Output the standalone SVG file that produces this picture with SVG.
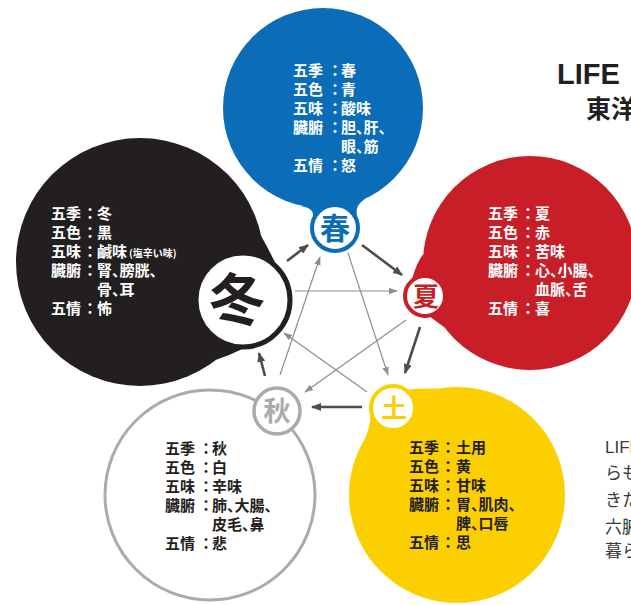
<svg xmlns="http://www.w3.org/2000/svg" width="631" height="605" viewBox="0 0 631 605">
<style>
.t{font-family:"Noto Sans CJK JP","Noto Sans CJK SC",sans-serif;font-size:15px;font-weight:700;font-feature-settings:"palt"}
.w{fill:#ffffff}
.k{fill:#231f20}
.c{text-anchor:middle}
.big{font-family:"Noto Sans CJK JP","Noto Sans CJK SC",sans-serif;font-weight:700;text-anchor:middle}
.dk{stroke:#4d4d4d;stroke-width:2.6;fill:none}
.lt{stroke:#8e8e8e;stroke-width:1.2;fill:none}
.ring{fill:#ffffff}
.side{font-family:"Noto Sans CJK JP","Noto Sans CJK SC",sans-serif;font-size:17px;fill:#3a3a3a}
</style>
<defs>
<marker id="ad" viewBox="0 0 10 8" refX="9" refY="4" markerWidth="10" markerHeight="8" markerUnits="userSpaceOnUse" orient="auto"><path d="M0,0 L10,4 L0,8 z" fill="#4d4d4d"/></marker>
<marker id="al" viewBox="0 0 10 7" refX="9" refY="3.5" markerWidth="9" markerHeight="6.5" markerUnits="userSpaceOnUse" orient="auto"><path d="M0,0 L10,3.5 L0,7 z" fill="#8e8e8e"/></marker>
</defs>
<rect width="631" height="605" fill="#ffffff"/>

<g id="title">
<text x="557" y="84" font-family="'Liberation Sans',Arial,sans-serif" font-size="29" font-weight="700" fill="#231f20">LIFE</text>
<text x="586" y="118" font-family="'Noto Sans CJK JP',sans-serif" font-size="25" font-weight="700" fill="#231f20">東洋</text>
</g>

<g id="side-text" class="side">
<text x="605" y="453" font-family="'Liberation Sans',Arial,sans-serif">LIFE</text>
<text x="605" y="479">らも</text>
<text x="605" y="506">きた</text>
<text x="605" y="533">六腑</text>
<text x="605" y="557">暮ら</text>
</g>

<g id="spring">
<circle cx="323" cy="108" r="100" fill="#0b6db7"/>
<path d="M301,206 Q318,209 311,221 L335,228 L335,200 Z M365,199 Q352,207 359,221 L335,228 L335,200 Z" fill="#0b6db7"/>
<text class="t w" x="293" y="76">五季</text><text class="t w c" x="335" y="76">：</text><text class="t w" x="341" y="76">春</text>
<text class="t w" x="293" y="95">五色</text><text class="t w c" x="335" y="95">：</text><text class="t w" x="341" y="95">青</text>
<text class="t w" x="293" y="114">五味</text><text class="t w c" x="335" y="114">：</text><text class="t w" x="341" y="114">酸味</text>
<text class="t w" x="293" y="133">臓腑</text><text class="t w c" x="335" y="133">：</text><text class="t w" x="341" y="133">胆、肝、</text>
<text class="t w" x="341" y="152">眼、筋</text>
<text class="t w" x="293" y="171">五情</text><text class="t w c" x="335" y="171">：</text><text class="t w" x="341" y="171">怒</text>
</g>

<g id="summer">
<circle cx="530" cy="263" r="107" fill="#c81e28"/>
<path d="M423.4,253.7 Q416,264 412.4,278 L425,296 Z M444.5,327.4 Q437,322 430.7,317.3 L425,296 L440,300 Z" fill="#c81e28"/>
<text class="t w" x="488" y="219">五季</text><text class="t w c" x="528" y="219">：</text><text class="t w" x="535" y="219">夏</text>
<text class="t w" x="488" y="238">五色</text><text class="t w c" x="528" y="238">：</text><text class="t w" x="535" y="238">赤</text>
<text class="t w" x="488" y="257">五味</text><text class="t w c" x="528" y="257">：</text><text class="t w" x="535" y="257">苦味</text>
<text class="t w" x="488" y="276">臓腑</text><text class="t w c" x="528" y="276">：</text><text class="t w" x="535" y="276">心、小腸、</text>
<text class="t w" x="535" y="295">血脈、舌</text>
<text class="t w" x="488" y="314">五情</text><text class="t w c" x="528" y="314">：</text><text class="t w" x="535" y="314">喜</text>
</g>

<g id="winter">
<circle cx="140" cy="262" r="124" fill="#231f20"/>
<path d="M261.3,236.2 Q268,248 274.8,262.1 L243,300 Z M216.3,359.7 Q228,356 241.3,349.5 L243,300 Z" fill="#231f20"/>
<text class="t w" x="51" y="219">五季</text><text class="t w c" x="90" y="219">：</text><text class="t w" x="97" y="219">冬</text>
<text class="t w" x="51" y="238">五色</text><text class="t w c" x="90" y="238">：</text><text class="t w" x="97" y="238">黒</text>
<text class="t w" x="51" y="257">五味</text><text class="t w c" x="90" y="257">：</text><text class="t w" x="97" y="257">鹹味<tspan font-size="10" dx="2">(塩辛い味)</tspan></text>
<text class="t w" x="51" y="276">臓腑</text><text class="t w c" x="90" y="276">：</text><text class="t w" x="97" y="276">腎、膀胱、</text>
<text class="t w" x="97" y="295">骨、耳</text>
<text class="t w" x="51" y="314">五情</text><text class="t w c" x="90" y="314">：</text><text class="t w" x="97" y="314">怖</text>
</g>

<g id="autumn">
<circle cx="210" cy="495" r="105" fill="#ffffff" stroke="#ababab" stroke-width="3"/>
<text class="t k" x="165" y="454">五季</text><text class="t k c" x="206" y="454">：</text><text class="t k" x="212" y="454">秋</text>
<text class="t k" x="165" y="473">五色</text><text class="t k c" x="206" y="473">：</text><text class="t k" x="212" y="473">白</text>
<text class="t k" x="165" y="492">五味</text><text class="t k c" x="206" y="492">：</text><text class="t k" x="212" y="492">辛味</text>
<text class="t k" x="165" y="511">臓腑</text><text class="t k c" x="206" y="511">：</text><text class="t k" x="212" y="511">肺、大腸、</text>
<text class="t k" x="212" y="530">皮毛、鼻</text>
<text class="t k" x="165" y="549">五情</text><text class="t k c" x="206" y="549">：</text><text class="t k" x="212" y="549">悲</text>
</g>

<g id="doyo">
<circle cx="457" cy="495" r="108" fill="#fcd000"/>
<path d="M438.2,388.6 Q418,388 408.4,389.6 L393,408 L420,410 Z M365.4,437.8 Q370,426 370.4,416.2 L393,408 L390,430 Z" fill="#fcd000"/>
<text class="t k" x="409" y="453">五季</text><text class="t k c" x="448" y="453">：</text><text class="t k" x="456" y="453">土用</text>
<text class="t k" x="409" y="472">五色</text><text class="t k c" x="448" y="472">：</text><text class="t k" x="456" y="472">黄</text>
<text class="t k" x="409" y="491">五味</text><text class="t k c" x="448" y="491">：</text><text class="t k" x="456" y="491">甘味</text>
<text class="t k" x="409" y="510">臓腑</text><text class="t k c" x="448" y="510">：</text><text class="t k" x="456" y="510">胃、肌肉、</text>
<text class="t k" x="456" y="529">脾、口唇</text>
<text class="t k" x="409" y="548">五情</text><text class="t k c" x="448" y="548">：</text><text class="t k" x="456" y="548">思</text>
</g>

<g id="connectors">
<line class="dk" x1="287" y1="261" x2="308" y2="245" marker-end="url(#ad)"/>
<line class="dk" x1="362" y1="245" x2="402" y2="275" marker-end="url(#ad)"/>
<line class="dk" x1="420" y1="327" x2="405" y2="373" marker-end="url(#ad)"/>
<line class="dk" x1="362" y1="407" x2="312" y2="407" marker-end="url(#ad)"/>
<line class="dk" x1="265" y1="376" x2="259" y2="353" marker-end="url(#ad)"/>
<line class="lt" x1="295" y1="291" x2="397" y2="291" marker-end="url(#al)"/>
<line class="lt" x1="348" y1="253" x2="388" y2="375" marker-end="url(#al)"/>
<line class="lt" x1="406" y1="320" x2="305" y2="392" marker-end="url(#al)"/>
<line class="lt" x1="367" y1="392" x2="284" y2="333" marker-end="url(#al)"/>
<line class="lt" x1="280" y1="375" x2="320" y2="257" marker-end="url(#al)"/>
</g>

<g id="badge-spring">
<circle class="ring" cx="335" cy="228" r="23" stroke="#0b6db7" stroke-width="4"/>
<text class="big" x="335" y="239" font-size="30" fill="#0b6db7">春</text>
</g>
<g id="badge-summer">
<circle class="ring" cx="425" cy="296" r="20" stroke="#c81e28" stroke-width="4"/>
<text class="big" x="426" y="306" font-size="26" fill="#c81e28">夏</text>
</g>
<g id="badge-winter">
<circle class="ring" cx="243" cy="300" r="47" stroke="#231f20" stroke-width="5"/>
<text class="big" x="237" y="320" font-size="56" fill="#231f20">冬</text>
</g>
<g id="badge-autumn">
<circle class="ring" cx="277" cy="411" r="23" stroke="#ababab" stroke-width="3.5"/>
<text class="big" x="277" y="421" font-size="27" fill="#ababab">秋</text>
</g>
<g id="badge-doyo">
<circle class="ring" cx="393" cy="408" r="22" stroke="#fcd000" stroke-width="4"/>
<text class="big" x="394" y="418" font-size="26" fill="#fcd000">土</text>
</g>
</svg>
